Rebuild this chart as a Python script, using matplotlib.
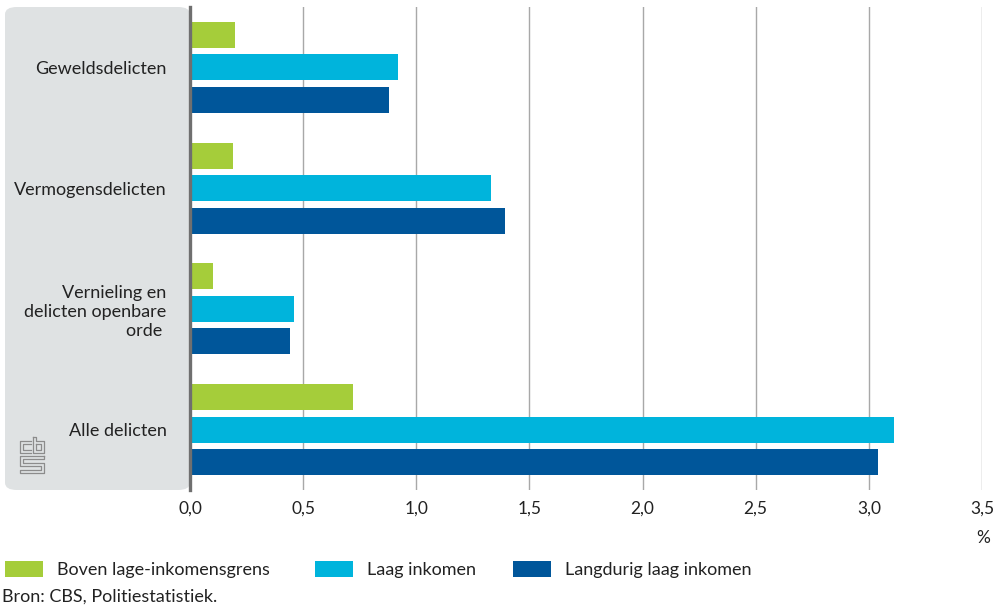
import numpy as np
import matplotlib.pyplot as plt
from matplotlib.patches import FancyBboxPatch, Rectangle
from matplotlib.lines import Line2D

plt.rcParams['font.family'] = ['Lato', 'DejaVu Sans']

categories = ['Geweldsdelicten', 'Vermogensdelicten',
              'Vernieling en\ndelicten openbare\norde ', 'Alle delicten']
series = ['Boven lage-inkomensgrens', 'Laag inkomen', 'Langdurig laag inkomen']
boven = [0.20, 0.19, 0.10, 0.72]
laag = [0.92, 1.33, 0.46, 3.11]
langdurig = [0.88, 1.39, 0.44, 3.04]
colors = ['#a5cd3a', '#00b4dc', '#00569a']
xticks = [0, 0.5, 1.0, 1.5, 2.0, 2.5, 3.0, 3.5]

W, H = 995, 605
fig = plt.figure(figsize=(W / 100, H / 100), dpi=100)
ax = fig.add_axes([190 / W, 1 - 490 / H, (982 - 190) / W, (490 - 7) / H])
ax.set_zorder(2)

# grey label panel
panel = FancyBboxPatch((5 / W, 1 - 490 / H), (190 - 5) / W, (490 - 7) / H,
                       boxstyle='round,pad=0,rounding_size=0.012',
                       transform=fig.transFigure, facecolor='#dfe2e3',
                       edgecolor='none', zorder=-1)
fig.patches.append(panel)
ax.set_facecolor('none')

# cbs logo (rough)
def px(pts):
    return [p[0] / W for p in pts], [1 - p[1] / H for p in pts]

logo = [
    [(31, 441), (20, 441), (20, 453), (31, 453)],
    [(31, 444), (23, 444), (23, 450), (31, 450)],
    [(33, 437), (33, 453), (44, 453), (44, 441), (36, 441), (36, 437), (33, 437)],
    [(36, 444), (41, 444), (41, 450), (36, 450), (36, 444)],
    [(44, 456), (20, 456), (20, 466), (41, 466), (41, 470), (20, 470), (20, 473),
     (44, 473), (44, 463), (23, 463), (23, 459), (44, 459), (44, 456)],
]
for pts in logo:
    xs, ys = px(pts)
    fig.lines.append(Line2D(xs, ys, transform=fig.transFigure,
                            color='#8c8c8c', linewidth=0.9))

y = np.arange(len(categories))
h = 0.215
step = 0.27
for i, (vals, c) in enumerate(zip([boven, laag, langdurig], colors)):
    ax.barh(y + (i - 1) * step, vals, height=h, color=c, zorder=3)

ax.set_xlim(0, 3.5)
ax.set_ylim(3.5, -0.5)
ax.set_xticks(xticks)
ax.set_xticklabels([f'{t:.1f}'.replace('.', ',') for t in xticks],
                   fontsize=12.5, color='#222222')
ax.set_yticks(y)
ax.set_yticklabels(categories, fontsize=13, color='#222222',
                   linespacing=1.25, multialignment='right')
ax.tick_params(axis='x', length=0, pad=8)
ax.tick_params(axis='y', length=0, pad=17)
ax.grid(axis='x', color='#a8a8a8', linewidth=1, zorder=1)
for s in ['top', 'right', 'bottom']:
    ax.spines[s].set_visible(False)
ax.spines['left'].set_color('#6f6f6f')
ax.spines['left'].set_linewidth(2.4)
ax.spines['left'].set_zorder(4)

fig.text(990 / W, 1 - 538 / H, '%', ha='right', va='center',
         fontsize=12.5, color='#222222')

# legend
leg_x = [5, 315, 513]
for lx, lab, c in zip(leg_x, series, colors):
    fig.patches.append(Rectangle((lx / W, 1 - 577 / H), 38 / W, 16 / H,
                                 transform=fig.transFigure, facecolor=c,
                                 edgecolor='none'))
    fig.text((lx + 52) / W, 1 - 570 / H, lab, ha='left', va='center',
             fontsize=13, color='#222222')

fig.text(2 / W, 1 - 597 / H, 'Bron: CBS, Politiestatistiek.', ha='left',
         va='center', fontsize=13, color='#222222')

fig.savefig('out.png', dpi=100)
